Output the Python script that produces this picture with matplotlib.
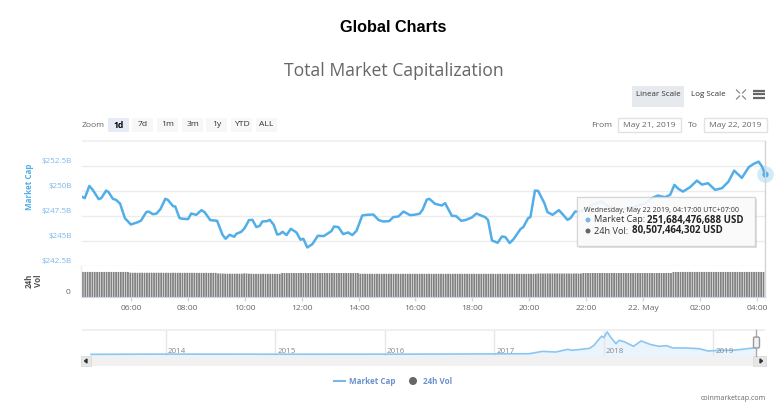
import matplotlib
matplotlib.use("Agg")
from matplotlib import pyplot as plt
from matplotlib.patches import Rectangle, FancyBboxPatch, Circle
import numpy as np

W, H = 778, 416

# hours since midnight May 21
cap_hours = [4.27, 4.38, 4.54, 4.66, 4.87, 4.96, 5.13, 5.21, 5.37, 5.48, 5.62, 5.79, 6.0, 6.25, 6.36, 6.54, 6.62, 6.77, 6.89, 7.04,
             7.21, 7.30, 7.48, 7.56, 7.71, 7.83, 8.01, 8.12, 8.30, 8.48, 8.59, 8.79, 9.03, 9.22, 9.33, 9.47, 9.63, 9.71, 9.88, 10.0,
             10.15, 10.27, 10.41, 10.53, 10.62, 10.79, 10.88, 11.02, 11.14, 11.23, 11.33, 11.47, 11.62, 11.82, 11.96, 12.06, 12.20, 12.38, 12.57, 12.78,
             13.05, 13.14, 13.29, 13.46, 13.64, 13.78, 13.93, 14.13, 14.29, 14.52, 14.71, 14.87, 15.08, 15.22, 15.40, 15.58, 15.81, 15.95, 16.14, 16.25,
             16.40, 16.49, 16.69, 16.93, 17.04, 17.28, 17.43, 17.61, 17.75, 17.98, 18.14, 18.33, 18.45, 18.55, 18.69, 18.89, 19.04, 19.16, 19.31, 19.45,
             19.69, 19.79, 19.96, 20.04, 20.20, 20.31, 20.53, 20.64, 20.82, 21.04, 21.19, 21.34, 21.45, 21.61, 21.78, 22.02, 22.19, 22.54, 22.78, 23.13,
             23.42, 23.72, 24.07, 24.30, 24.52, 24.77, 24.95, 25.10, 25.24, 25.40, 25.65, 25.89, 26.07, 26.28, 26.53, 26.77, 27.0, 27.20, 27.47, 27.71,
             27.88, 28.06, 28.18, 28.29]
# market cap, billions USD
cap_values = [249.43, 249.27, 250.5, 250.1, 249.17, 249.27, 250.03, 249.9, 249.2, 249.1, 248.73, 247.27, 246.63, 246.87, 247.03, 247.87, 247.93, 247.67, 247.7, 248.17,
              249.2, 249.1, 248.47, 248.43, 247.27, 247.2, 247.17, 247.73, 247.6, 248.07, 247.87, 247.07, 247.0, 245.6, 245.2, 245.6, 245.4, 245.7, 245.9, 246.27,
              247.07, 247.1, 246.37, 246.5, 246.93, 246.97, 247.1, 246.6, 245.63, 245.67, 245.9, 245.57, 246.2, 245.83, 245.1, 245.2, 244.33, 244.67, 245.5, 245.47,
              245.97, 246.43, 246.37, 245.67, 245.83, 245.57, 246.0, 247.53, 247.6, 247.63, 247.07, 246.93, 246.97, 247.37, 247.43, 247.93, 247.57, 247.6, 247.7, 248.1,
              249.13, 249.2, 248.7, 248.53, 248.77, 247.5, 247.47, 247.0, 247.07, 247.33, 247.73, 247.5, 247.37, 247.07, 245.03, 244.8, 245.43, 245.37, 244.77, 245.17,
              246.17, 246.37, 247.27, 247.37, 250.03, 250.0, 248.77, 247.87, 247.6, 248.07, 247.6, 247.1, 247.27, 247.93, 247.93, 248.27, 248.6, 248.93, 248.43, 248.1,
              248.27, 248.43, 248.77, 249.27, 249.53, 249.37, 249.6, 250.6, 250.2, 249.93, 250.37, 251.03, 250.63, 250.77, 250.1, 250.27, 250.93, 252.03, 251.3, 252.37,
              252.7, 252.93, 252.43, 251.68]

# 24h volume, billions USD, one value per 5 min starting at 04:17
vol_values = [80.6, 80.5, 80.6, 80.4, 80.5, 80.6, 80.5, 80.4, 80.5, 80.6, 80.5, 80.5,
              80.5, 80.6, 80.4, 80.5, 80.5, 80.6, 80.5, 80.4, 78.0, 77.9, 78.0, 77.8,
              77.9, 78.0, 77.8, 77.9, 77.9, 78.0, 77.8, 77.9, 78.0, 77.9, 77.8, 77.8,
              77.8, 77.7, 77.9, 77.8, 77.7, 77.8, 77.6, 77.7, 77.8, 77.7, 77.6, 77.7,
              77.6, 77.5, 77.6, 77.5, 77.6, 77.4, 77.5, 77.6, 77.5, 75.8, 75.6, 75.4,
              74.9, 74.8, 74.9, 74.7, 74.8, 74.9, 74.8, 74.8, 75.9, 75.7, 74.8, 74.7,
              74.4, 74.5, 74.3, 74.4, 74.5, 74.4, 74.3, 74.4, 74.5, 74.4, 74.3, 74.4,
              77.0, 77.1, 76.9, 77.0, 77.1, 77.0, 76.9, 77.0, 77.1, 77.0, 76.9, 77.0,
              77.1, 77.0, 76.9, 77.0, 77.1, 77.0, 77.1, 76.9, 77.0, 77.1, 77.0, 76.9,
              77.0, 77.1, 76.9, 77.0, 77.1, 77.0, 76.9, 77.0, 77.0, 74.7, 74.6, 74.5,
              74.5, 74.6, 74.4, 74.5, 74.6, 74.5, 74.4, 74.5, 74.6, 74.5, 74.4, 74.5,
              74.6, 74.5, 74.4, 74.5, 74.6, 74.4, 74.5, 74.6, 74.5, 74.4, 74.5, 74.6,
              74.5, 74.4, 74.6, 74.5, 74.4, 74.5, 74.6, 74.5, 74.4, 74.5, 74.6, 74.5,
              74.4, 74.5, 74.6, 74.5, 74.4, 74.6, 74.5, 74.4, 74.5, 74.6, 74.5, 74.4,
              74.5, 74.6, 74.4, 74.5, 74.6, 74.5, 74.4, 74.5, 74.6, 74.5, 74.4, 74.5,
              74.6, 74.5, 74.4, 74.5, 74.6, 74.5, 74.4, 74.6, 74.5, 74.4, 74.5, 74.6,
              75.5, 75.6, 75.4, 75.5, 75.6, 75.5, 75.4, 75.5, 75.6, 75.5, 75.4, 75.5,
              75.6, 75.5, 75.4, 75.5, 75.6, 75.5, 75.4, 77.0, 77.1, 76.9, 77.0, 77.1,
              77.0, 76.9, 77.0, 77.1, 77.0, 76.9, 77.0, 77.1, 77.0, 76.9, 77.0, 77.1,
              77.0, 76.9, 77.0, 77.1, 77.0, 76.9, 77.0, 77.1, 77.0, 76.9, 77.0, 77.1,
              77.0, 76.9, 77.0, 77.1, 77.0, 76.9, 77.0, 77.1, 77.0, 80.3, 80.4, 80.3,
              80.5, 80.6, 80.4, 80.5, 80.6, 80.5, 80.4, 80.5, 80.6, 80.5, 80.4, 80.5,
              80.6, 80.5, 80.4, 80.5, 80.6, 80.5, 80.4, 80.5, 80.6, 80.5, 80.4, 80.5,
              80.6, 80.5, 80.4, 80.5, 80.6, 80.5, 80.4, 80.5, 80.6, 80.5, 80.4, 80.5,
              80.5]

x_ticks = [6, 8, 10, 12, 14, 16, 18, 20, 22, 24, 26, 28]
x_labels = ["06:00", "08:00", "10:00", "12:00", "14:00", "16:00", "18:00", "20:00", "22:00", "22. May", "02:00", "04:00"]
y_ticks = [242.5, 245, 247.5, 250, 252.5]
y_labels = ["$242.5B", "$245B", "$247.5B", "$250B", "$252.5B"]

# navigator, whole history
nav_years = [2013.32, 2014.0, 2015.0, 2016.0, 2017.0, 2017.32, 2017.44, 2017.56, 2017.67, 2017.71, 2017.87, 2017.91, 2017.96, 2017.98, 2018.0, 2018.03,
             2018.06, 2018.11, 2018.14, 2018.19, 2018.27, 2018.34, 2018.42, 2018.5, 2018.57, 2018.63, 2018.75, 2018.87, 2018.95, 2019.05, 2019.17, 2019.26, 2019.38]
nav_caps = [1.5, 10, 6, 7, 17, 25, 110, 87, 186, 150, 223, 335, 583, 670, 620, 830,
            645, 397, 520, 459, 298, 496, 372, 298, 322, 236, 236, 210, 124, 149, 149, 186, 245]
nav_ticks = [2014, 2015, 2016, 2017, 2018, 2019]

zoom_buttons = ["1d", "7d", "1m", "3m", "1y", "YTD", "ALL"]

LINE = "#52aee8"
FONT = "Open Sans"
plt.rcParams["font.family"] = [FONT, "DejaVu Sans"]


def px(size):
    return size * 0.72


def axes_px(fig, left, top, right, bottom, **kw):
    return fig.add_axes([left / W, 1 - bottom / H, (right - left) / W, (bottom - top) / H], **kw)


fig = plt.figure(figsize=(W / 100, H / 100), dpi=100, facecolor="white")

# main price panel
ax = axes_px(fig, 82, 141, 765, 265.7)
ax.set_xlim(4.283, 28.283)
ax.set_ylim(242.5, 255)
ax.plot(cap_hours, cap_values, color=LINE, lw=1.8, solid_joinstyle="round", zorder=3)
ax.plot(cap_hours[-1], cap_values[-1], "o", ms=12, color=LINE, alpha=0.25, mec="none", zorder=4, clip_on=False)
ax.plot(cap_hours[-1], cap_values[-1], "o", ms=4.5, color=LINE, mec="none", zorder=5, clip_on=False)
ax.set_yticks(y_ticks)
ax.set_yticklabels([])
ax.set_xticks([])
ax.tick_params(length=0)
ax.grid(axis="y", color="#ececec", lw=1)
for s in ax.spines.values():
    s.set_visible(False)
for v, lab in zip(y_ticks, y_labels):
    ax.annotate(lab, (0, v), xycoords=("axes fraction", "data"), xytext=(-7.5, 3), textcoords="offset points",
                ha="right", va="center", fontsize=px(8), color="#7cb5ec")

# volume panel
ax2 = axes_px(fig, 82, 266.5, 765, 297)
ax2.set_xlim(4.283, 28.283)
ax2.set_ylim(0, 98)
vol_hours = 4.283 + np.arange(len(vol_values)) / 12
ax2.bar(vol_hours, vol_values, width=0.062, color="#808080", lw=0, align="edge", snap=False)
ax2.set_xticks(x_ticks)
ax2.set_xticklabels(x_labels, fontsize=px(8.5), color="#666666")
ax2.tick_params(axis="x", length=3, width=1, color="#ccd6eb", pad=2.5)
ax2.set_yticks([])
for s in ax2.spines.values():
    s.set_visible(False)
ax2.spines["bottom"].set_visible(True)
ax2.spines["bottom"].set_color("#ccd6eb")

# navigator
nav = axes_px(fig, 82, 330, 765, 356)
nav.set_xlim(2013.238, 2019.47)
nav.set_ylim(-60, 900)
nav.fill_between(nav_years, nav_caps, -60, color="#eaf4fc", lw=0)
nav.plot(nav_years, nav_caps, color="#8cc6f0", lw=1.2)
nav.set_xticks(nav_ticks)
nav.set_xticklabels([])
nav.set_yticks([])
nav.tick_params(length=0)
nav.grid(axis="x", color="#e6e6e6", lw=1)
for s in nav.spines.values():
    s.set_visible(False)
for y in nav_ticks:
    nav.annotate(str(y), (y, 0), xycoords=("data", "axes fraction"), xytext=(1.5, 3.5), textcoords="offset points",
                 ha="left", va="center", fontsize=px(8), color="#888888")

# everything else is page furniture, in pixel coordinates
ui = fig.add_axes([0, 0, 1, 1], zorder=10)
ui.set_xlim(0, W)
ui.set_ylim(H, 0)
ui.axis("off")
ui.patch.set_visible(False)


def box(x0, y0, x1, y1, fc, ec="none", lw=0, alpha=None, z=2):
    ui.add_patch(Rectangle((x0, y0), x1 - x0, y1 - y0, fc=fc, ec=ec, lw=lw, alpha=alpha, zorder=z))


def label(x, y, s, size=8.5, color="#666666", ha="center", **kw):
    ui.text(x, y, s, fontsize=px(size), color=color, ha=ha, va="center", **kw)


label(393.5, 27, "Global Charts", size=16.3, color="black", weight="bold", family="Liberation Sans")
label(394, 71.5, "Total Market Capitalization", size=17.6, color="#666666")

# scale buttons and icons
box(632, 86, 684, 107, "#e6e9ed")
label(658, 94.5, "Linear Scale", size=8, color="#333333")
label(708, 94.5, "Log Scale", size=8, color="#333333")
for sx, sy in [(-1, -1), (1, -1), (-1, 1), (1, 1)]:
    ui.plot([741 + sx * 1.5, 741 + sx * 4.5], [94.5 + sy * 1.5, 94.5 + sy * 4.5], color="#888888", lw=0.9)
for y in [90.5, 94, 97.5]:
    ui.plot([753, 765], [y, y], color="#666666", lw=1.6, solid_capstyle="butt")

# range selector
label(82, 125.5, "Zoom", size=8.5, ha="left")
for i, (name, bx) in enumerate(zip(zoom_buttons, [108, 132.5, 157, 182, 206, 231, 256])):
    box(bx, 118, bx + 21, 132, "#e6ebf5" if i == 0 else "#f7f7f7")
    label(bx + 10.5, 125, name, size=8.5, color="black" if i == 0 else "#333333", weight="bold" if i == 0 else "normal")
label(602, 125.5, "From", size=8.5)
label(693, 125.5, "To", size=8.5)
box(618, 118, 681, 132, "white", ec="#e2e2e2", lw=1)
box(704, 118, 767, 132, "white", ec="#e2e2e2", lw=1)
label(649.5, 125.5, "May 21, 2019", size=8.5)
label(735.5, 125.5, "May 22, 2019", size=8.5)

# axis titles and the zero label
label(29.5, 187, "Market Cap", size=8, color="#52aee8", weight="bold", rotation=90)
label(34, 281, "24h\nVol", size=8, color="#555555", weight="bold", rotation=90, linespacing=1.0)
label(68, 293, "0", size=8.5)

# bands and crosshair
box(82, 140, 765, 142, "#f2f2f2", z=1)
box(82, 329, 765, 331, "#efefef", z=1)
ui.plot([81.5, 81.5], [266, 297], color="#eeeeee", lw=1)
ui.plot([764.7, 764.7], [141, 297], color="#d5d5d5", lw=1, zorder=1)

# tooltip
box(579, 199, 757, 248, "#999999", alpha=0.3, z=5)
box(577, 197, 755, 246, "white", ec="#d0d0d0", lw=1, alpha=0.87, z=6)
label(584.5, 210.5, "Wednesday, May 22 2019, 04:17:00 UTC+07:00", size=7.2, color="#333333", ha="left", zorder=7)
ui.add_patch(Circle((588, 220), 2.5, fc="#7cb5ec", ec="none", zorder=7))
ui.add_patch(Circle((588, 231), 2.5, fc="#666666", ec="none", zorder=7))
label(594, 220, "Market Cap:", size=9.2, color="#333333", ha="left", zorder=7)
label(647.5, 220, "251,684,476,688 USD", size=9.6, color="#222222", ha="left", weight="bold", zorder=7)
label(594, 231, "24h Vol:", size=9.2, color="#333333", ha="left", zorder=7)
label(632.5, 231, "80,507,464,302 USD", size=9.6, color="#222222", ha="left", weight="bold", zorder=7)

# scrollbar under the navigator
box(81, 356, 765, 366, "#f1f1f1")
box(81, 356, 91, 366, "#e6e6e6", ec="#d8d8d8", lw=0.5)
box(753, 356, 766, 366, "#e6e6e6", ec="#d8d8d8", lw=0.5)
ui.fill([84.5, 87, 87], [361, 359, 363], color="#333333", zorder=3)
ui.fill([762.5, 760, 760], [361, 359, 363], color="#333333", zorder=3)
ui.plot([756.5, 756.5], [330, 356], color="#aaaaaa", lw=1, zorder=3)
ui.add_patch(FancyBboxPatch((754, 337.5), 5, 10, boxstyle="round,pad=0.5,rounding_size=1.5", fc="#f2f2f2", ec="#999999", lw=1, zorder=4))

# legend
ui.plot([334, 345], [381, 381], color="#7cb5ec", lw=1.5)
label(349, 381, "Market Cap", size=8, color="#6a92cc", ha="left", weight="bold")
ui.add_patch(Circle((413, 381), 4, fc="#666666", ec="none"))
label(423, 381, "24h Vol", size=8, color="#6a92cc", ha="left", weight="bold")
label(766, 398, "coinmarketcap.com", size=7, color="#666666", ha="right")

fig.savefig("out.png", dpi=100, facecolor="white")
plt.close(fig)
